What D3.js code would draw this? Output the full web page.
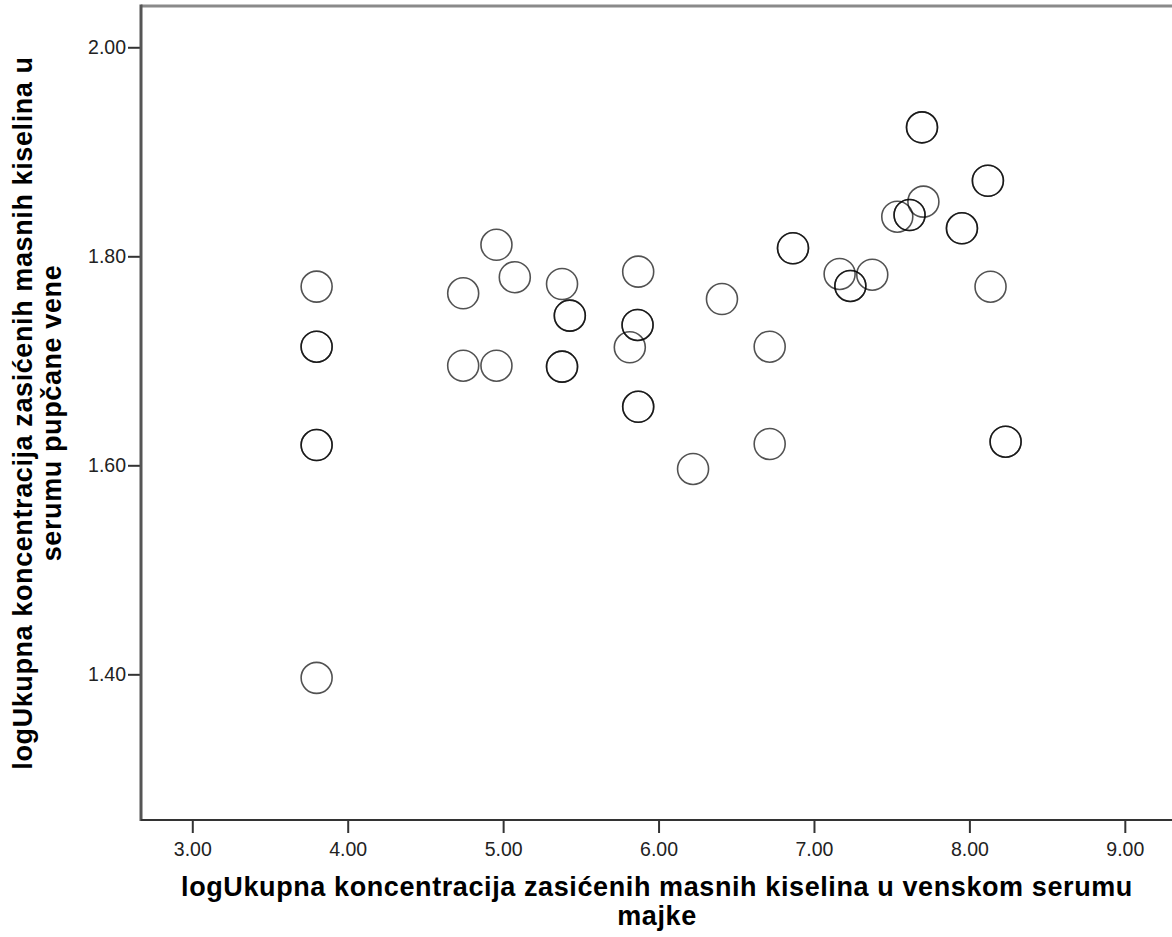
<!DOCTYPE html>
<html><head><meta charset="utf-8">
<script src="https://cdn.jsdelivr.net/npm/d3@7"></script>
<style>body{margin:0;background:#fff} svg{display:block}</style>
</head><body><svg id="c" width="1172" height="937"></svg>
<script>
// Maternal venous serum (x) vs umbilical vein serum (y); repeated pairs are overlapping cases
const xValues = [3.80, 3.80, 3.80, 3.80, 3.80, 3.80,
  4.743, 4.743, 4.957, 4.957, 5.075, 5.379, 5.379, 5.379, 5.429, 5.429,
  5.869, 5.865, 5.865, 5.815, 5.869, 5.869, 6.222, 6.408,
  6.715, 6.715, 6.865, 6.865, 7.165, 7.234, 7.234, 7.375,
  7.536, 7.615, 7.615, 7.704, 7.695, 7.695, 7.952, 7.952, 8.119, 8.119, 8.136, 8.233, 8.233];
const yValues = [1.771, 1.7135, 1.7135, 1.6194, 1.6194, 1.3966,
  1.7646, 1.6953, 1.811, 1.6953, 1.780, 1.7735, 1.6944, 1.6944, 1.7432, 1.7432,
  1.7853, 1.7343, 1.7343, 1.7129, 1.656, 1.656, 1.5965, 1.7591,
  1.7135, 1.6204, 1.8077, 1.8077, 1.7831, 1.7716, 1.7716, 1.7824,
  1.8379, 1.8395, 1.8395, 1.8523, 1.9234, 1.9234, 1.8268, 1.8268, 1.8723, 1.8723, 1.7709, 1.6226, 1.6226];
const xTicks = [3, 4, 5, 6, 7, 8, 9];
const yTicks = [1.4, 1.6, 1.8, 2.0];
const xDomain = [2.67, 9.31];
const yDomain = [1.2606, 2.0395];
const xTitleLines = ["logUkupna koncentracija zasićenih masnih kiselina u venskom serumu", "majke"];
const yTitleLines = ["logUkupna koncentracija zasićenih masnih kiselina u", "serumu pupčane vene"];

const svg = d3.select("#c");
const L = 141, T = 6, R = 1173, B = 820;
const x = d3.scaleLinear().domain(xDomain).range([L, R]);
const y = d3.scaleLinear().domain(yDomain).range([B, T]);
const font = "'Liberation Sans', Arial, sans-serif";

svg.append("rect").attr("width", 1172).attr("height", 937).attr("fill", "#fff");

// axes
const gx = svg.append("g").attr("transform", `translate(0,${B})`)
  .call(d3.axisBottom(x).tickValues(xTicks).tickSize(13).tickPadding(9).tickFormat(d3.format(".2f")));
const gy = svg.append("g").attr("transform", `translate(${L},0)`)
  .call(d3.axisLeft(y).tickValues(yTicks).tickSize(13).tickPadding(2).tickFormat(d3.format(".2f")));
[gx, gy].forEach(g => {
  g.select(".domain").remove();
  g.selectAll(".tick line").attr("stroke", "#333").attr("stroke-width", 2);
  g.selectAll(".tick text").attr("fill", "#222").style("font-family", font).style("font-size", "19.5px");
});

// frame
svg.append("line").attr("x1", L).attr("x2", R + 5).attr("y1", T).attr("y2", T)
  .attr("stroke", "#8a8a8a").attr("stroke-width", 3);
svg.append("line").attr("x1", L).attr("x2", L).attr("y1", T - 1.5).attr("y2", B + 1)
  .attr("stroke", "#555").attr("stroke-width", 3);
svg.append("line").attr("x1", L).attr("x2", R + 5).attr("y1", B).attr("y2", B)
  .attr("stroke", "#333").attr("stroke-width", 2);

// points
svg.append("g").selectAll("circle").data(xValues.map((v, i) => [v, yValues[i]])).join("circle")
  .attr("cx", d => x(d[0])).attr("cy", d => y(d[1])).attr("r", 15.5)
  .attr("fill", "none").attr("stroke", "#000").attr("stroke-opacity", 0.68).attr("stroke-width", 1.6);

// titles
const titleStyle = t => t.style("font-family", font).style("font-size", "27px").style("font-weight", "bold")
  .style("letter-spacing", "0.6px").attr("fill", "#000").attr("text-anchor", "middle");
const xt = svg.append("text").call(titleStyle);
xTitleLines.forEach((t, i) => xt.append("tspan").attr("x", (L + R) / 2).attr("y", 896 + i * 29).text(t));

const yt = svg.append("text").call(titleStyle).attr("transform", "rotate(-90)");
yTitleLines.forEach((t, i) => yt.append("tspan").attr("x", -(T + B) / 2).attr("y", 32 + i * 29).text(t));
</script>
</body></html>
